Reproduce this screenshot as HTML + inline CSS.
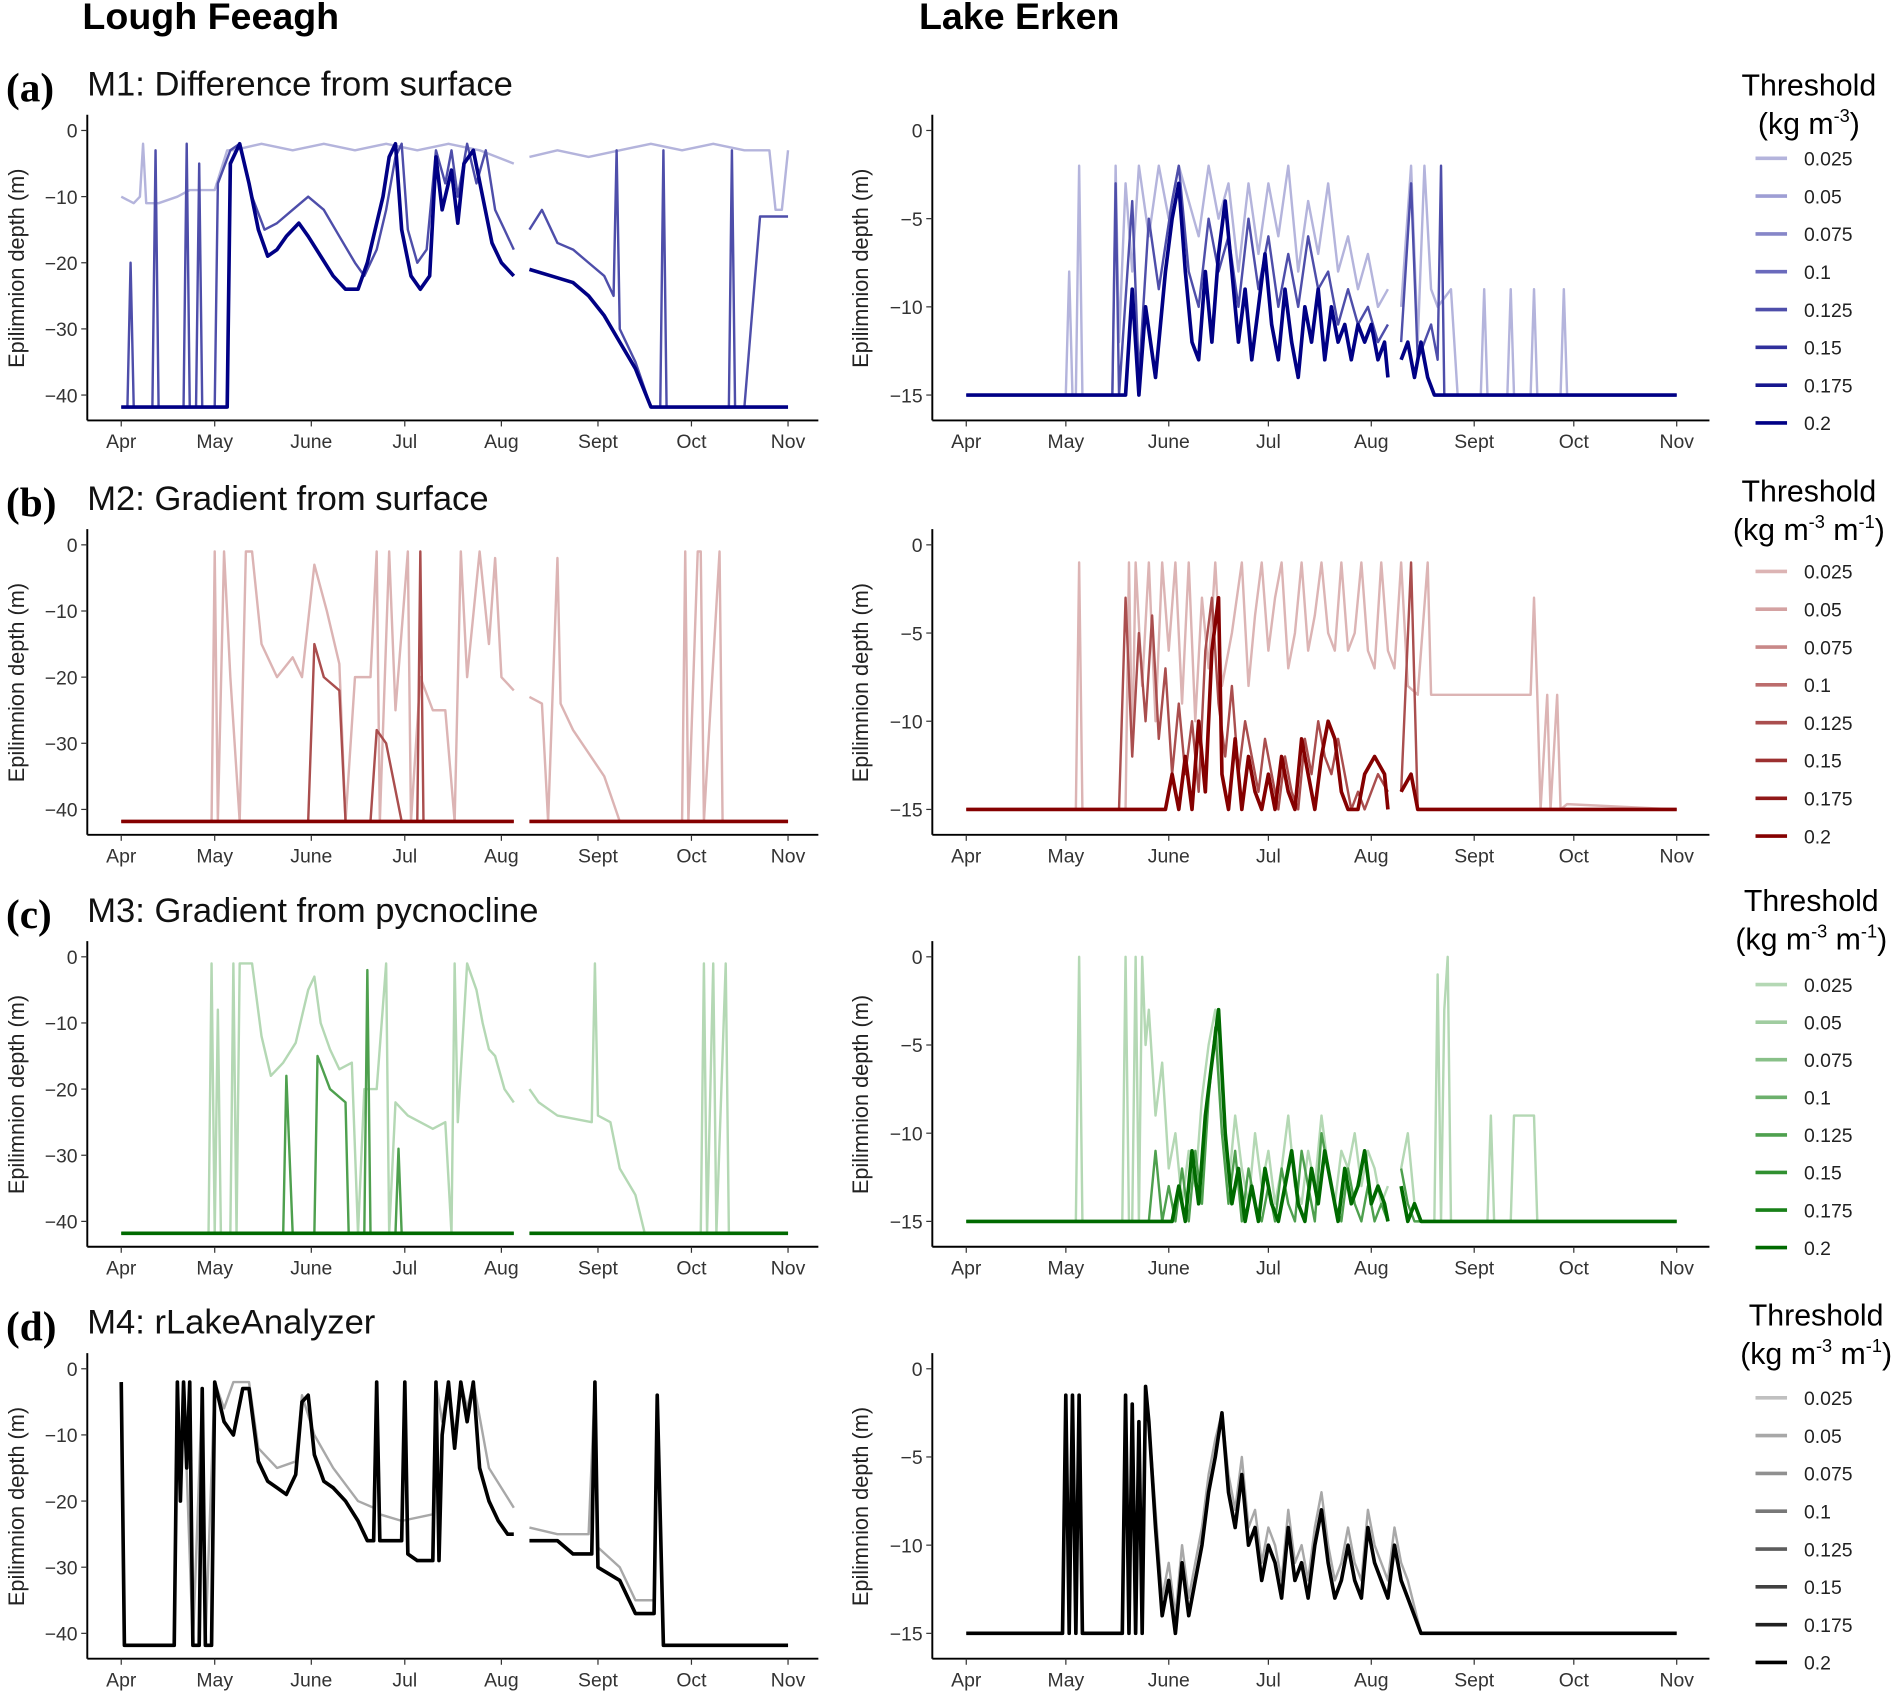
<!DOCTYPE html>
<html><head><meta charset="utf-8">
<style>
html,body{margin:0;padding:0;background:#fff;}
svg{display:block;}
text{font-family:"Liberation Sans",sans-serif;}
</style></head>
<body>
<svg id="chart" width="1901" height="1701" viewBox="0 0 1568 1408" preserveAspectRatio="none" xmlns="http://www.w3.org/2000/svg">
<rect x="0" y="0" width="1568" height="1408" fill="#fff"/>
<text x="68" y="24" font-size="31" font-weight="bold" fill="#000">Lough Feeagh</text>
<text x="758" y="24" font-size="31" font-weight="bold" fill="#000">Lake Erken</text>
</svg>
<script>
// ---------- data (day since Apr 1, depth m) ----------
const monthLabels = ["Apr","May","June","Jul","Aug","Sept","Oct","Nov"];
const monthDays = [0,30,61,91,122,153,183,214];
const thresholds = ["0.025","0.05","0.075","0.1","0.125","0.15","0.175","0.2"];
const feeaghTicks = [0,-10,-20,-30,-40];
const erkenTicks = [0,-5,-10,-15];

const fa_light = [[0,-10],[4,-11],[6,-10],[7,-2],[8,-11],[12,-11],[18,-10],[22,-9],[30,-9],[34,-3],[36,-3],[45,-2],[55,-3],[65,-2],[75,-3],[85,-2],[95,-3],[105,-2],[115,-3],[126,-5],[128,null],[131,-4],[140,-3],[150,-4],[160,-3],[170,-2],[180,-3],[190,-2],[200,-3],[208,-3],[210,-12],[212,-12],[214,-3]];
const fa_mid = [[0,-41.8],[2,-41.8],[3,-20],[4,-41.8],[10,-41.8],[11,-3],[12,-41.8],[20,-41.8],[21,-2],[22,-41.8],[24,-41.8],[25,-5],[26,-41.8],[30,-41.8],[31,-8],[35,-3],[38,-2],[42,-10],[46,-15],[50,-14],[55,-12],[60,-10],[65,-12],[70,-16],[75,-20],[78,-22],[82,-18],[85,-12],[88,-4],[90,-2],[92,-15],[95,-20],[98,-18],[101,-3],[104,-8],[106,-3],[108,-10],[111,-2],[114,-8],[117,-3],[120,-12],[123,-15],[126,-18],[128,null],[131,-15],[135,-12],[140,-17],[145,-18],[150,-20],[155,-22],[158,-25],[159,-3],[160,-30],[165,-35],[170,-41.8],[173,-41.8],[174,-3],[175,-41.8],[195,-41.8],[196,-3],[197,-41.8],[200,-41.8],[205,-13],[214,-13]];
const fa_dark = [[0,-41.8],[34,-41.8],[35,-5],[38,-2],[41,-8],[44,-15],[47,-19],[50,-18],[53,-16],[57,-14],[60,-16],[64,-19],[68,-22],[72,-24],[76,-24],[79,-20],[82,-14],[84,-10],[86,-4],[88,-2],[90,-15],[93,-22],[96,-24],[99,-22],[101,-4],[103,-12],[106,-6],[108,-14],[110,-5],[113,-3],[116,-10],[119,-17],[122,-20],[126,-22],[128,null],[131,-21],[138,-22],[145,-23],[150,-25],[155,-28],[160,-32],[165,-36],[170,-41.8],[214,-41.8]];

const fb_light = [[0,-41.8],[29,-41.8],[30,-1],[31,-41.8],[33,-1],[35,-20],[38,-41.8],[40,-1],[42,-1],[45,-15],[50,-20],[55,-17],[58,-20],[62,-3],[66,-10],[70,-18],[72,-41.8],[75,-20],[80,-20],[82,-1],[83,-41.8],[86,-1],[88,-25],[92,-1],[93,-41.8],[96,-20],[100,-25],[104,-25],[107,-41.8],[109,-1],[111,-20],[115,-1],[118,-15],[120,-2],[122,-20],[126,-22],[128,null],[131,-23],[135,-24],[137,-41.8],[140,-2],[141,-24],[145,-28],[155,-35],[160,-41.8],[180,-41.8],[181,-1],[182,-41.8],[185,-1],[186,-1],[187,-41.8],[192,-1],[193,-41.8],[214,-41.8]];
const fb_mid = [[0,-41.8],[60,-41.8],[62,-15],[65,-20],[70,-22],[72,-41.8],[80,-41.8],[82,-28],[85,-30],[90,-41.8],[95,-41.8],[96,-1],[97,-41.8],[126,-41.8],[128,null],[131,-41.8],[214,-41.8]];
const fb_dark = [[0,-41.8],[126,-41.8],[128,null],[131,-41.8],[214,-41.8]];

const fc_light = [[0,-41.8],[28,-41.8],[29,-1],[30,-41.8],[31,-8],[32,-41.8],[35,-41.8],[36,-1],[37,-41.8],[38,-1],[42,-1],[45,-12],[48,-18],[52,-16],[56,-13],[60,-5],[62,-3],[64,-10],[67,-14],[70,-17],[74,-16],[76,-41.8],[78,-20],[82,-20],[85,-1],[86,-41.8],[88,-22],[92,-24],[96,-25],[100,-26],[104,-25],[106,-41.8],[107,-1],[108,-25],[111,-1],[114,-5],[116,-10],[118,-14],[120,-15],[123,-20],[126,-22],[128,null],[131,-20],[134,-22],[140,-24],[151,-25],[152,-1],[153,-24],[157,-25],[160,-32],[165,-36],[168,-41.8],[186,-41.8],[187,-1],[188,-41.8],[190,-1],[191,-41.8],[194,-1],[195,-41.8],[214,-41.8]];
const fc_mid = [[0,-41.8],[52,-41.8],[53,-18],[55,-41.8],[62,-41.8],[63,-15],[67,-20],[72,-22],[73,-41.8],[78,-41.8],[79,-2],[80,-41.8],[88,-41.8],[89,-29],[90,-41.8],[126,-41.8],[128,null],[131,-41.8],[214,-41.8]];
const fc_dark = [[0,-41.8],[126,-41.8],[128,null],[131,-41.8],[214,-41.8]];

const fd_light = [[0,-2],[1,-41.8],[17,-41.8],[18,-2],[19,-18],[20,-2],[23,-41.8],[26,-3],[27,-41.8],[30,-2],[33,-6],[36,-2],[41,-2],[44,-12],[50,-15],[56,-14],[58,-4],[62,-10],[68,-15],[76,-20],[81,-21],[82,-2],[83,-22],[90,-23],[100,-22],[101,-2],[103,-8],[105,-2],[107,-10],[109,-2],[111,-6],[113,-2],[118,-15],[126,-21],[128,null],[131,-24],[140,-25],[150,-25],[152,-2],[153,-27],[160,-30],[165,-35],[171,-35],[172,-4],[174,-41.8],[214,-41.8]];
const fd_dark = [[0,-2],[1,-41.8],[17,-41.8],[18,-2],[19,-20],[20,-2],[21,-15],[22,-2],[23,-41.8],[25,-41.8],[26,-3],[27,-41.8],[29,-41.8],[30,-2],[33,-8],[36,-10],[39,-3],[41,-3],[44,-14],[47,-17],[50,-18],[53,-19],[56,-16],[58,-5],[60,-4],[62,-13],[65,-17],[68,-18],[72,-20],[76,-23],[79,-26],[81,-26],[82,-2],[83,-26],[90,-26],[91,-2],[92,-28],[95,-29],[100,-29],[101,-2],[102,-29],[103,-10],[105,-2],[107,-12],[109,-2],[111,-8],[113,-2],[115,-15],[118,-20],[121,-23],[124,-25],[126,-25],[128,null],[131,-26],[140,-26],[145,-28],[151,-28],[152,-2],[153,-30],[160,-32],[165,-37],[171,-37],[172,-4],[174,-41.8],[214,-41.8]];

const ea_light = [[0,-15],[30,-15],[31,-8],[32,-15],[33,-15],[34,-2],[35,-15],[44,-15],[45,-2],[46,-12],[48,-3],[50,-8],[52,-2],[55,-6],[58,-2],[61,-5],[64,-2],[67,-4],[70,-6],[73,-2],[76,-5],[79,-3],[82,-8],[85,-3],[88,-7],[91,-3],[94,-6],[97,-2],[100,-8],[103,-4],[106,-7],[109,-3],[112,-8],[115,-6],[118,-9],[121,-7],[124,-10],[127,-9],[129,null],[131,-10],[134,-2],[136,-12],[138,-2],[140,-9],[142,-10],[146,-9],[148,-15],[155,-15],[156,-9],[157,-15],[163,-15],[164,-9],[165,-15],[170,-15],[171,-9],[172,-15],[179,-15],[180,-9],[181,-15],[214,-15]];
const ea_mid = [[0,-15],[44,-15],[45,-3],[46,-15],[50,-4],[52,-14],[55,-5],[58,-9],[62,-4],[64,-2],[67,-8],[70,-10],[73,-5],[76,-8],[79,-6],[82,-10],[85,-5],[88,-9],[91,-6],[94,-10],[97,-7],[100,-10],[103,-6],[106,-9],[109,-8],[112,-11],[115,-9],[118,-11],[121,-10],[124,-12],[127,-11],[129,null],[131,-12],[134,-3],[136,-13],[140,-11],[142,-13],[143,-2],[144,-15],[214,-15]];
const ea_dark = [[0,-15],[48,-15],[50,-9],[52,-15],[54,-10],[57,-14],[60,-8],[62,-5],[64,-3],[66,-8],[68,-12],[70,-13],[72,-8],[74,-12],[76,-7],[78,-4],[80,-8],[82,-12],[84,-9],[86,-13],[88,-10],[90,-7],[92,-11],[94,-13],[96,-9],[98,-12],[100,-14],[102,-10],[104,-12],[106,-9],[108,-13],[110,-10],[112,-12],[114,-11],[116,-13],[118,-11],[120,-12],[122,-11],[124,-13],[126,-12],[127,-14],[129,null],[131,-13],[133,-12],[135,-14],[137,-12],[139,-14],[141,-15],[214,-15]];

const eb_light = [[0,-15],[33,-15],[34,-1],[35,-15],[48,-15],[49,-1],[50,-12],[51,-1],[53,-8],[55,-1],[57,-10],[59,-1],[61,-6],[63,-1],[65,-9],[67,-1],[69,-10],[71,-3],[73,-7],[75,-1],[77,-8],[80,-5],[83,-1],[85,-8],[87,-4],[89,-1],[91,-6],[93,-3],[95,-1],[97,-7],[99,-5],[101,-1],[103,-6],[105,-4],[107,-1],[109,-5],[111,-6],[113,-1],[115,-6],[117,-5],[119,-1],[121,-6],[123,-7],[125,-1],[127,-6],[129,-7],[131,-1],[133,-8],[136,-8.5],[139,-1],[140,-8.5],[170,-8.5],[171,-3],[172,-8.5],[173,-15],[175,-8.5],[176,-15],[178,-8.5],[179,-15],[181,-14.7],[214,-15]];
const eb_mid = [[0,-15],[46,-15],[48,-3],[50,-12],[52,-5],[54,-10],[56,-4],[58,-11],[60,-7],[62,-13],[64,-9],[66,-13],[68,-10],[70,-14],[72,-6],[74,-3],[76,-9],[78,-12],[80,-8],[82,-13],[84,-10],[86,-12],[88,-14],[90,-11],[92,-13],[94,-15],[96,-12],[98,-14],[100,-15],[102,-11],[104,-13],[106,-10],[108,-12],[110,-13],[112,-11],[114,-13],[116,-15],[118,-14],[120,-15],[124,-13],[127,-14],[129,null],[131,-14],[134,-1],[136,-15],[214,-15]];
const eb_dark = [[0,-15],[60,-15],[62,-13],[64,-15],[66,-12],[68,-15],[70,-10],[72,-14],[74,-6],[76,-3],[77,-13],[79,-15],[81,-11],[83,-15],[85,-12],[87,-14],[89,-15],[91,-13],[93,-15],[95,-12],[97,-14],[99,-15],[101,-11],[103,-13],[105,-15],[107,-12],[109,-10],[111,-11],[113,-14],[115,-15],[118,-15],[120,-13],[123,-12],[126,-13],[127,-15],[129,null],[131,-14],[134,-13],[136,-15],[214,-15]];

const ec_light = [[0,-15],[33,-15],[34,0],[35,-15],[47,-15],[48,0],[49,-15],[50,-15],[51,0],[52,-15],[53,0],[54,-5],[55,-3],[57,-9],[59,-6],[61,-12],[63,-10],[65,-14],[67,-11],[69,-13],[71,-8],[73,-5],[75,-3],[77,-10],[79,-13],[81,-9],[83,-12],[85,-14],[87,-10],[89,-13],[91,-11],[93,-14],[95,-12],[97,-9],[99,-13],[101,-14],[103,-11],[105,-13],[107,-9],[109,-12],[111,-14],[113,-11],[115,-12],[117,-10],[119,-13],[121,-11],[123,-12],[125,-14],[127,-13],[129,null],[131,-12],[133,-10],[135,-14],[137,-15],[141,-15],[142,-1],[143,-15],[144,-3],[145,0],[146,-15],[157,-15],[158,-9],[159,-15],[164,-15],[165,-9],[171,-9],[172,-15],[214,-15]];
const ec_mid = [[0,-15],[55,-15],[57,-11],[59,-15],[61,-13],[63,-15],[65,-12],[67,-15],[69,-11],[71,-14],[73,-8],[75,-4],[77,-10],[79,-14],[81,-11],[83,-15],[85,-12],[87,-14],[89,-15],[91,-13],[93,-15],[95,-12],[97,-14],[99,-15],[101,-11],[103,-13],[105,-15],[107,-10],[109,-12],[111,-14],[113,-15],[115,-12],[117,-14],[119,-15],[121,-13],[123,-15],[125,-14],[127,-15],[129,null],[131,-12],[133,-14],[135,-15],[214,-15]];
const ec_dark = [[0,-15],[62,-15],[64,-13],[66,-15],[68,-11],[70,-14],[72,-9],[74,-6],[76,-3],[78,-10],[80,-14],[82,-12],[84,-15],[86,-13],[88,-15],[90,-12],[92,-14],[94,-15],[96,-13],[98,-11],[100,-14],[102,-15],[104,-12],[106,-14],[108,-11],[110,-13],[112,-15],[114,-12],[116,-14],[118,-13],[120,-11],[122,-14],[124,-13],[126,-14],[127,-15],[129,null],[131,-13],[133,-15],[135,-14],[137,-15],[214,-15]];

const ed_light = [[0,-15],[29,-15],[30,-1.5],[31,-15],[32,-1.5],[33,-15],[34,-1.5],[35,-15],[47,-15],[48,-1.5],[49,-15],[50,-2],[51,-15],[52,-3],[53,-15],[54,-1],[55,-3],[57,-8],[59,-13],[61,-11],[63,-14],[65,-10],[67,-13],[69,-11],[71,-9],[73,-6],[75,-4],[77,-2.5],[79,-6],[81,-8],[83,-5],[85,-9],[87,-8],[89,-11],[91,-9],[93,-10],[95,-12],[97,-8],[99,-11],[101,-10],[103,-12],[105,-9],[107,-7],[109,-10],[111,-12],[113,-11],[115,-9],[117,-11],[119,-12],[121,-8],[123,-10],[125,-11],[127,-12],[129,-9],[131,-11],[133,-12],[137,-15],[214,-15]];
const ed_dark = [[0,-15],[29,-15],[30,-1.5],[31,-15],[32,-1.5],[33,-15],[34,-1.5],[35,-15],[47,-15],[48,-1.5],[49,-15],[50,-2],[51,-15],[52,-3],[53,-15],[54,-1],[55,-3],[57,-9],[59,-14],[61,-12],[63,-15],[65,-11],[67,-14],[69,-12],[71,-10],[73,-7],[75,-5],[77,-2.5],[79,-7],[81,-9],[83,-6],[85,-10],[87,-9],[89,-12],[91,-10],[93,-11],[95,-13],[97,-9],[99,-12],[101,-11],[103,-13],[105,-10],[107,-8],[109,-11],[111,-13],[113,-12],[115,-10],[117,-12],[119,-13],[121,-9],[123,-11],[125,-12],[127,-13],[129,-10],[131,-12],[133,-13],[137,-15],[214,-15]];

// ---------- rendering ----------
const svg = document.getElementById('chart');
const NS = 'http://www.w3.org/2000/svg';
function mk(tag, attrs, parent) {
  const e = document.createElementNS(NS, tag);
  for (const k in attrs) e.setAttribute(k, attrs[k]);
  (parent || svg).appendChild(e);
  return e;
}
const rowOffsets = [0, 343, 684, 1025];
const rowLetters = ["(a)","(b)","(c)","(d)"];
const rowTitles = ["M1: Difference from surface","M2: Gradient from surface","M3: Gradient from pycnocline","M4: rLakeAnalyzer"];
const palettes = [
  ["#b4b4dc","#9e9ed4","#8686c8","#6a6abc","#4e4eaa","#30309c","#16168e","#000085"],
  ["#dcb4b4","#d4a2a2","#c88888","#bc6c6c","#aa4e4e","#9c3030","#901818","#850000"],
  ["#b4d8b4","#a0cca0","#88c088","#6cb06c","#4ea04e","#309030","#188018","#006a00"],
  ["#c0c0c0","#a8a8a8","#909090","#787878","#5c5c5c","#404040","#202020","#000000"]
];
const feeaghSeries = [[fa_light,fa_mid,fa_dark],[fb_light,fb_mid,fb_dark],[fc_light,fc_mid,fc_dark],[fd_light,fd_dark]];
const erkenSeries = [[ea_light,ea_mid,ea_dark],[eb_light,eb_mid,eb_dark],[ec_light,ec_mid,ec_dark],[ed_light,ed_dark]];

function drawPanel(r, lake) {
  const off = rowOffsets[r];
  const left = lake === 0;
  const axX = left ? 72 : 769;
  const axRight = left ? 675 : 1410;
  const x0 = left ? 100 : 797, x1 = left ? 650 : 1383;
  const ticks = left ? feeaghTicks : erkenTicks;
  const vmin = left ? -40 : -15;
  const yTop = 108 + off, yBot = 327 + off;
  const xs = d => x0 + (x1 - x0) * d / 214;
  const ys = v => yTop + (yBot - yTop) * v / vmin;
  const g = mk('g', {});
  
  
  const baseY = off + 348;
  const ya = mk('line', {x1: axX, y1: off + 95, x2: axX, y2: baseY, stroke: '#000', 'stroke-width': 1.6}, g);
  
  
  const xa = mk('line', {x1: axX, y1: baseY, x2: axRight, y2: baseY, stroke: '#000', 'stroke-width': 1.6}, g);
  
  
  ticks.forEach(t => {
    const y = ys(t);
    mk('line', {x1: axX - 5, y1: y, x2: axX, y2: y, stroke: '#333', 'stroke-width': 1}, g);
    const tl = mk('text', {x: axX - 8, y: y + 6, 'font-size': 16, fill: '#333', 'text-anchor': 'end'}, g);
    
    
    tl.textContent = t === 0 ? '0' : '\u2212' + Math.abs(t);
  });
  monthDays.forEach((d, i) => {
    const x = xs(d);
    mk('line', {x1: x, y1: baseY, x2: x, y2: baseY + 5, stroke: '#333', 'stroke-width': 1}, g);
    const tl = mk('text', {x: x, y: baseY + 23, 'font-size': 16, fill: '#333', 'text-anchor': 'middle'}, g);
    
    
    tl.textContent = monthLabels[i];
  });
  const cy = off + 222, tx = left ? 20 : 716;
  const yt = mk('text', {x: tx, y: cy, 'font-size': 18, fill: '#222', 'text-anchor': 'middle', transform: `rotate(-90 ${tx} ${cy})`}, g);
  
  
  yt.textContent = 'Epilimnion depth (m)';
  const list = left ? feeaghSeries[r] : erkenSeries[r];
  const pal = palettes[r];
  list.forEach((s, si) => {
    const idx = list.length === 3 ? [0, 4, 7][si] : [1, 7][si];
    let d = '', pen = false;
    s.forEach(p => {
      if (p[1] === null) { pen = false; return; }
      d += (pen ? 'L' : 'M') + xs(p[0]).toFixed(1) + ',' + ys(p[1]).toFixed(1);
      pen = true;
    });
    const path = mk('path', {d: d, fill: 'none', stroke: pal[idx], 'stroke-width': si === list.length - 1 ? 3 : 2, 'stroke-linejoin': 'round'}, g);
    
    
  });
}

for (let r = 0; r < 4; r++) {
  const off = rowOffsets[r];
  const lt = mk('text', {x: 5, y: off + 84, 'font-size': 34, 'font-weight': 'bold', style: 'font-family:"Liberation Serif",serif', fill: '#000'});
  
  
  lt.textContent = rowLetters[r];
  const tt = mk('text', {x: 72, y: off + 79, 'font-size': 28.5, fill: '#111'});
  
  
  tt.textContent = rowTitles[r];
  drawPanel(r, 0);
  drawPanel(r, 1);
  const lg = mk('g', {});
  
  
  const cx = [1492, 1492, 1494, 1498][r];
  const titleY = off + [79, 72, 70, 72][r];
  const t1 = mk('text', {x: cx, y: titleY, 'font-size': 25, 'text-anchor': 'middle', fill: '#000'}, lg);
  
  
  t1.textContent = 'Threshold';
  const t2 = mk('text', {x: cx, y: titleY + 32, 'font-size': 25, 'text-anchor': 'middle', fill: '#000'}, lg);
  
  
  if (r === 0) {
    t2.innerHTML = '(kg m<tspan dy="-10" font-size="15">-3</tspan><tspan dy="10">)</tspan>';
  } else {
    t2.innerHTML = '(kg m<tspan dy="-10" font-size="15">-3</tspan><tspan dy="10"> m</tspan><tspan dy="-10" font-size="15">-1</tspan><tspan dy="10">)</tspan>';
  }
  const firstY = off + [131, 130, 131, 132][r];
  const gap = [31.3, 31.3, 31.1, 31.3][r];
  thresholds.forEach((th, i) => {
    const y = firstY + gap * i;
    const ln = mk('line', {x1: 1448, y1: y, x2: 1474, y2: y, stroke: palettes[r][i], 'stroke-width': 3}, lg);
    
    
    const lt2 = mk('text', {x: 1488, y: y + 6, 'font-size': 16, fill: '#222'}, lg);
    
    
    lt2.textContent = th;
  });
}
</script>
</body></html>
